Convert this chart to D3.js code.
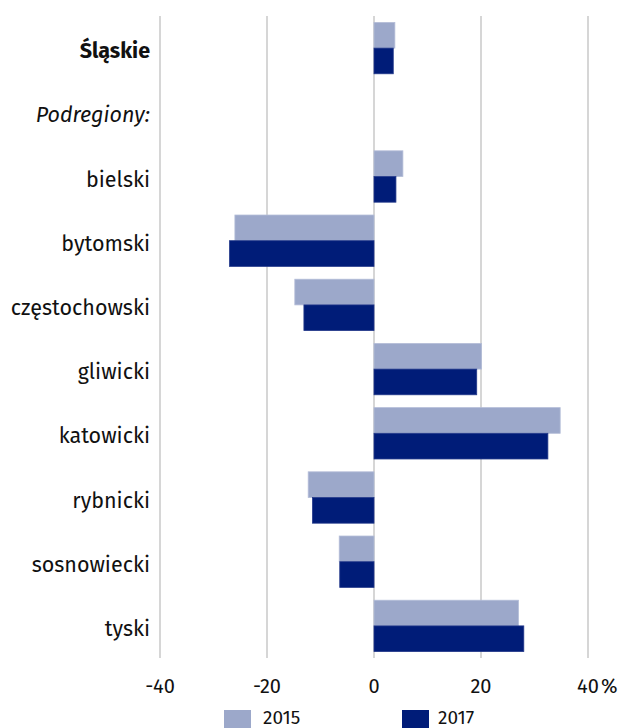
<!DOCTYPE html>
<html>
<head>
<meta charset="utf-8">
<script src="https://cdn.jsdelivr.net/npm/d3@7"></script>
<style>
  body { margin: 0; background: #fff; }
  text { font-family: "Fira Sans", "Noto Sans", sans-serif; }
</style>
</head>
<body>
<script>
const categories = ["Śląskie", "Podregiony:", "bielski", "bytomski", "częstochowski",
  "gliwicki", "katowicki", "rybnicki", "sosnowiecki", "tyski"];
const series = ["2015", "2017"];
const values2015 = [3.9, null, 5.4, -26.0, -14.8, 20.1, 34.8, -12.3, -6.5, 27.0];
const values2017 = [3.6, null, 4.1, -27.0, -13.1, 19.2, 32.5, -11.5, -6.4, 28.0];
const xTicks = [-40, -20, 0, 20, 40];

const width = 622, height = 728;
const colors = { "2015": "#9ca8ca", "2017": "#001c78" };
const strokes = { "2015": "#b4bdd8", "2017": "#23398a" };

const svg = d3.select("body").append("svg")
  .attr("width", width)
  .attr("height", height);

const x = d3.scaleLinear().domain([-40, 40]).range([160, 588]);
const y = d3.scaleBand().domain(categories).range([16, 658]).paddingInner(0.2).paddingOuter(0.1);
const y2 = d3.scaleBand().domain(series).range([0, y.bandwidth()]);

// Grid
svg.append("g")
  .selectAll("line")
  .data(xTicks)
  .enter()
  .append("line")
  .attr("x1", d => x(d))
  .attr("x2", d => x(d))
  .attr("y1", 16)
  .attr("y2", 658)
  .attr("stroke", "#c9c9c9")
  .attr("stroke-width", 1.5);

// Bars
const rows = categories.map((c, i) => ({ cat: c, v: { "2015": values2015[i], "2017": values2017[i] } }));

const groups = svg.append("g")
  .selectAll("g")
  .data(rows)
  .enter()
  .append("g")
  .attr("transform", d => `translate(0, ${y(d.cat)})`);

groups.selectAll("rect")
  .data(d => series.filter(s => d.v[s] !== null).map(s => ({ s, v: d.v[s] })))
  .enter()
  .append("rect")
  .attr("x", d => x(Math.min(0, d.v)))
  .attr("y", d => y2(d.s))
  .attr("width", d => Math.abs(x(d.v) - x(0)))
  .attr("height", y2.bandwidth())
  .attr("fill", d => colors[d.s])
  .attr("stroke", d => strokes[d.s])
  .attr("stroke-width", 0.8);

// Category labels
svg.append("g")
  .selectAll("text")
  .data(categories)
  .enter()
  .append("text")
  .attr("x", 150)
  .attr("y", d => y(d) + y.bandwidth() / 2)
  .attr("dy", "0.47em")
  .attr("text-anchor", "end")
  .style("font-size", "21.5px")
  .style("font-weight", (d, i) => i === 0 ? "bold" : "normal")
  .style("font-style", (d, i) => i === 1 ? "italic" : "normal")
  .attr("fill", "#111")
  .text(d => d);

// X axis labels
svg.append("g")
  .selectAll("text")
  .data(xTicks)
  .enter()
  .append("text")
  .attr("x", d => x(d))
  .attr("y", 693)
  .attr("text-anchor", "middle")
  .style("font-size", "20px")
  .attr("fill", "#111")
  .text(d => d);

svg.append("text")
  .attr("x", x(40) + 13)
  .attr("y", 693)
  .attr("text-anchor", "start")
  .style("font-size", "20px")
  .attr("fill", "#111")
  .text("%");

// Legend
const legendX = [224, 402];
const legend = svg.append("g")
  .selectAll("g")
  .data(series)
  .enter()
  .append("g")
  .attr("transform", (d, i) => `translate(${legendX[i]}, 710)`);

legend.append("rect")
  .attr("width", 27)
  .attr("height", 18)
  .attr("fill", d => colors[d]);

legend.append("text")
  .attr("x", d => d === "2015" ? 39 : 36)
  .attr("y", 13.5)
  .style("font-size", "19px")
  .attr("fill", "#111")
  .text(d => d);
</script>
</body>
</html>
